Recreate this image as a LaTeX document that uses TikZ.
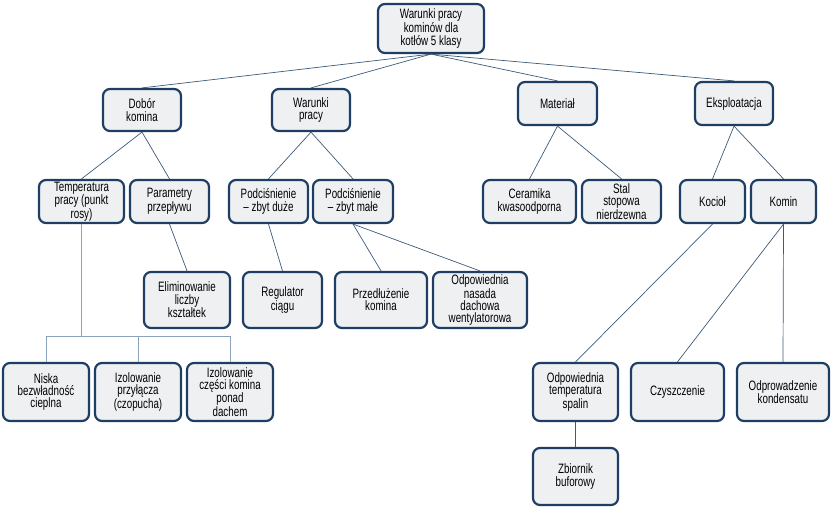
\documentclass[tikz,border=0pt]{standalone}
\usepackage{fontspec}
\setmainfont[FakeStretch=0.72]{Liberation Sans}
\definecolor{boxline}{HTML}{1E3E64}
\definecolor{boxfill}{HTML}{EEF0F2}
\definecolor{linkcol}{HTML}{3C5A7A}
\definecolor{buscol}{HTML}{8CA4BA}
\begin{document}
\begin{tikzpicture}[x=1pt, y=-1pt]
% Style
\tikzstyle{box} = [rectangle, rounded corners=7pt, draw=boxline, fill=boxfill, line width=2.2pt, align=center, inner sep=0pt, font=\fontsize{13.6}{12.2}\selectfont]
\tikzstyle{lvlA} = [box, minimum height=42pt]
\tikzstyle{lvlB} = [box, minimum height=43pt]
\tikzstyle{lvlC} = [box, minimum height=56pt]
\tikzstyle{lvlD} = [box, minimum height=58pt]
\tikzstyle{link} = [linkcol, line width=0.7pt]
\tikzstyle{bus} = [buscol, line width=0.9pt]

\useasboundingbox (0,0) rectangle (833,511);

% Korzen
\node[box, minimum width=106pt, minimum height=49pt] (root) at (431,28.5) {Warunki pracy\\kominów dla\\kotłów 5 klasy};

% Poziom 1
\node[lvlA, minimum width=78pt] (dobor) at (142,110) {Dobór\\komina};
\node[lvlA, minimum width=78pt] (warunki) at (311,110) {Warunki\\pracy};
\node[lvlB, minimum width=79pt] (material) at (557.5,103.5) {Materiał};
\node[lvlB, minimum width=78pt] (eksploatacja) at (734,103.5) {Eksploatacja};

% Poziom 2
\node[lvlB, minimum width=85pt] (temperatura) at (81.5,201.5) {Temperatura\\pracy (punkt\\rosy)};
\node[lvlB, minimum width=79pt] (parametry) at (169.5,201.5) {Parametry\\przepływu};
\node[lvlB, minimum width=79pt] (duze) at (268.5,201.5) {Podciśnienie\\– zbyt duże};
\node[lvlB, minimum width=80pt] (male) at (353,201.5) {Podciśnienie\\– zbyt małe};
\node[lvlB, minimum width=93pt] (ceramika) at (529.5,201.5) {Ceramika\\kwasoodporna};
\node[lvlB, minimum width=79pt] (stal) at (621.5,201.5) {Stal\\stopowa\\nierdzewna};
\node[lvlB, minimum width=65pt] (kociol) at (712.5,201.5) {Kocioł};
\node[lvlB, minimum width=65pt] (komin) at (783.5,201.5) {Komin};

% Poziom 3
\node[lvlC, minimum width=86pt] (eliminowanie) at (187,300) {Eliminowanie\\liczby\\kształtek};
\node[lvlC, minimum width=79pt] (regulator) at (282.5,300) {Regulator\\ciągu};
\node[lvlC, minimum width=92pt] (przedluzenie) at (381,300) {Przedłużenie\\komina};
\node[lvlC, minimum width=94pt] (nasada) at (480,300) {Odpowiednia\\nasada\\dachowa\\wentylatorowa};

% Poziom 4
\node[lvlD, minimum width=86pt] (niska) at (46,392) {Niska\\bezwładność\\cieplna};
\node[lvlD, minimum width=86pt] (przylacze) at (138,392) {Izolowanie\\przyłącza\\(czopucha)};
\node[lvlD, minimum width=86pt] (dach) at (230,392) {Izolowanie\\części komina\\ponad\\dachem};
\node[lvlD, minimum width=85pt] (spaliny) at (575.5,392) {Odpowiednia\\temperatura\\spalin};
\node[lvlD, minimum width=93pt] (czyszczenie) at (677.5,392) {Czyszczenie};
\node[lvlD, minimum width=92pt] (kondensat) at (783,392) {Odprowadzenie\\kondensatu};
\node[box, minimum width=85pt, minimum height=57pt] (zbiornik) at (575.5,476.5) {Zbiornik\\buforowy};

% Polaczenia
\draw[link] (root.south) -- (dobor.north);
\draw[link] (root.south) -- (warunki.north);
\draw[link] (root.south) -- (material.north);
\draw[link] (root.south) -- (eksploatacja.north);

\draw[link] (dobor.south) -- (temperatura.north);
\draw[link] (dobor.south) -- (parametry.north);
\draw[link] (warunki.south) -- (duze.north);
\draw[link] (warunki.south) -- (male.north);
\draw[link] (material.south) -- (ceramika.north);
\draw[link] (material.south) -- (stal.north);
\draw[link] (eksploatacja.south) -- (kociol.north);
\draw[link] (eksploatacja.south) -- (komin.north);

\draw[link] (parametry.south) -- (eliminowanie.north);
\draw[link] (duze.south) -- (regulator.north);
\draw[link] (male.south) -- (przedluzenie.north);
\draw[link] (male.south) -- (nasada.north);

\draw[link] (kociol.south) -- (spaliny.north);
\draw[link] (komin.south) -- (czyszczenie.north);
\draw[link] (komin.south) -- (kondensat.north);
\draw[link] (spaliny.south) -- (zbiornik.north);

% Szyna pod temperatura
\coordinate (szyna) at (0,336);
\draw[bus] (temperatura.south) -- (temperatura.south |- szyna);
\draw[bus] (niska.north) |- (dach.north |- szyna) -- (dach.north);
\draw[bus] (przylacze.north) -- (przylacze.north |- szyna);
\end{tikzpicture}
\end{document}
